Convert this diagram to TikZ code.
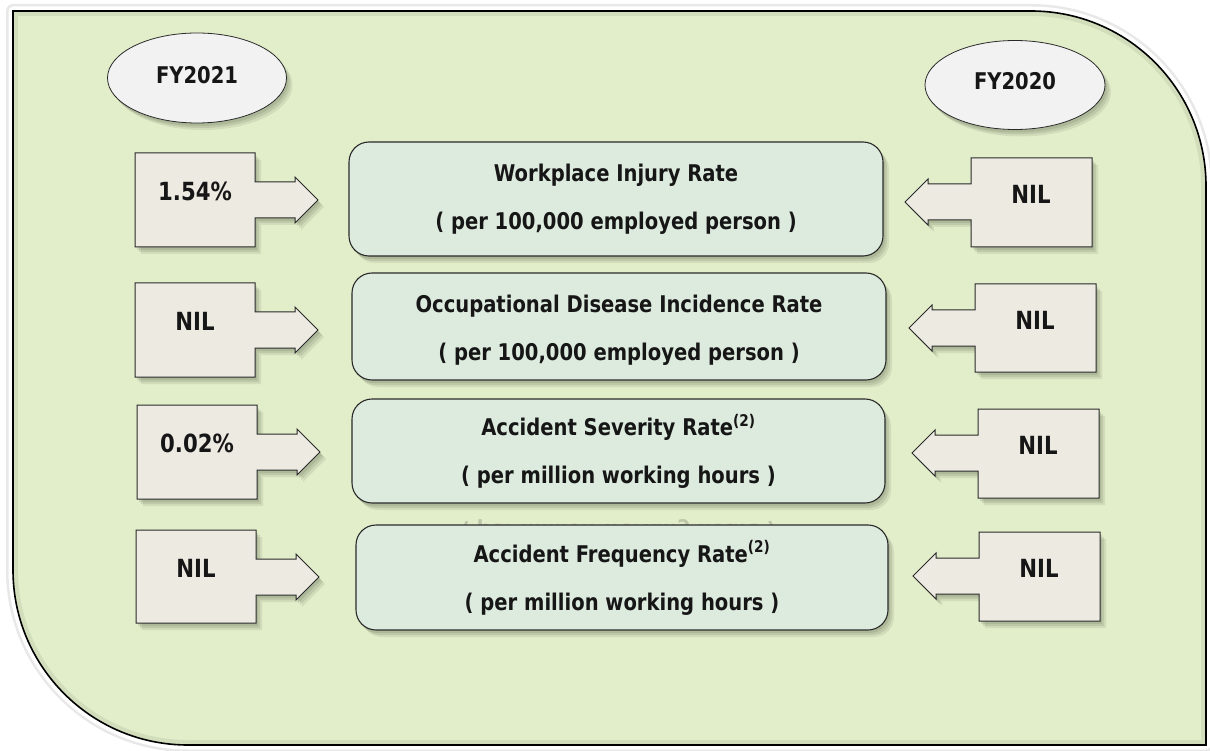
\documentclass[tikz,border=0pt]{standalone}
\usepackage{fontspec}
\setmainfont{DejaVu Sans}[FakeStretch=0.85]
\usetikzlibrary{shapes.geometric}
\definecolor{framefill}{HTML}{E2EDCA}
\definecolor{boxfill}{HTML}{DDEBDF}
\definecolor{callfill}{HTML}{EDEAE2}
\definecolor{ellfill}{HTML}{F2F2F2}
\definecolor{shadowc}{HTML}{4E5840}
\definecolor{txt}{HTML}{161616}
\definecolor{edge}{HTML}{2A2A2A}
\tikzset{
  softshadow/.style={
    preaction={fill=shadowc,opacity=.15,transform canvas={xshift=2pt,yshift=-3pt}},
    preaction={fill=shadowc,opacity=.14,transform canvas={xshift=4pt,yshift=-5pt}},
    preaction={fill=shadowc,opacity=.11,transform canvas={xshift=6pt,yshift=-7pt}}},
  callstyle/.style={softshadow,fill=callfill,draw=edge,line width=1pt,line join=miter},
  calltext/.style={text=txt,font=\fontsize{25}{29}\selectfont\bfseries},
  cbox/.style={softshadow,draw=edge,fill=boxfill,line width=1.1pt,rounded corners=20pt,
    align=center,text=txt,font=\fontsize{23}{48}\selectfont\bfseries,inner sep=0pt},
  ellbox/.style={softshadow,ellipse,draw=edge,fill=ellfill,line width=0.8pt,
    text=txt,font=\fontsize{23}{27}\selectfont\bfseries,inner sep=0pt}
}
\newcommand\leftcallout[6]{%
  \draw[callstyle] (#2,#3) -- ({#2+120},#3) -- ({#2+120},{#5-18}) -- ({#2+160},{#5-18})
    -- ({#2+160},{#5-23}) -- ({#2+183},#5) -- ({#2+160},{#5+23}) -- ({#2+160},{#5+18})
    -- ({#2+120},{#5+18}) -- ({#2+120},#4) -- (#2,#4) -- cycle;
  \node[calltext] (#1) at ({#2+60},{#5-9}) {#6};}
\newcommand\rightcallout[6]{%
  \draw[callstyle] (#2,#3) -- ({#2-121},#3) -- ({#2-121},{#5-18}) -- ({#2-164},{#5-18})
    -- ({#2-164},{#5-23}) -- ({#2-187},#5) -- ({#2-164},{#5+23}) -- ({#2-164},{#5+18})
    -- ({#2-121},{#5+18}) -- ({#2-121},#4) -- (#2,#4) -- cycle;
  \node[calltext] (#1) at ({#2-61},{#5-8}) {#6};}
\begin{document}
\begin{tikzpicture}[x=1pt,y=-1pt]
\useasboundingbox (0,0) rectangle (1210,751);
\fill[white] (0,0) rectangle (1210,751);
% outer frame
\draw[line width=14pt,gray!18,line join=round] (13,11) -- (1031,11) arc[start angle=-90,end angle=0,radius=175] -- (1206,745) -- (188,745) arc[start angle=90,end angle=180,radius=175] -- cycle;
\draw[line width=9pt,white,line join=round] (13,11) -- (1031,11) arc[start angle=-90,end angle=0,radius=175] -- (1206,745) -- (188,745) arc[start angle=90,end angle=180,radius=175] -- cycle;
\fill[framefill] (13,11) -- (1031,11) arc[start angle=-90,end angle=0,radius=175] -- (1206,745) -- (188,745) arc[start angle=90,end angle=180,radius=175] -- cycle;
\begin{scope}
\clip (13,11) -- (1031,11) arc[start angle=-90,end angle=0,radius=175] -- (1206,745) -- (188,745) arc[start angle=90,end angle=180,radius=175] -- cycle;
\draw[line width=10pt,shadowc,opacity=.10] (13,11) -- (1031,11) arc[start angle=-90,end angle=0,radius=175] -- (1206,745) -- (188,745) arc[start angle=90,end angle=180,radius=175] -- cycle;
\end{scope}
\draw[line width=1.6pt,black] (13,11) -- (1031,11) arc[start angle=-90,end angle=0,radius=175] -- (1206,745) -- (188,745) arc[start angle=90,end angle=180,radius=175] -- cycle;

% year ellipses
\node[ellbox,minimum width=179pt,minimum height=90pt] (fy21) at (197,78) {\raisebox{6pt}{FY2021}};
\node[ellbox,minimum width=180pt,minimum height=89pt] (fy20) at (1015,85) {\raisebox{8pt}{FY2020}};

% centre boxes
\node[cbox,minimum width=534pt,minimum height=114pt] (c1) at (616,199) {Workplace Injury Rate\\( per 100,000 employed person )};
\node[cbox,minimum width=534pt,minimum height=107pt] (c2) at (619,326.5) {\rule{0pt}{24.5pt}Occupational Disease Incidence Rate\\( per 100,000 employed person )};
\node[cbox,minimum width=533pt,minimum height=104pt] (c3) at (618.5,451) {Accident Severity Rate\textsuperscript{(2)}\\( per million working hours )};
\begin{scope}
\clip (352,503) rectangle (886,526);
\node[opacity=0.18,yscale=-1,text=txt,font=\fontsize{23}{48}\selectfont\bfseries] (refl) at (618.5,531) {( per million working hours )};
\end{scope}
\node[cbox,minimum width=532pt,minimum height=105pt] (c4) at (622,577.5) {\rule{0pt}{22pt}Accident Frequency Rate\textsuperscript{(2)}\\( per million working hours )};

% FY2021 callouts
\leftcallout{l1}{135}{153}{247}{200}{1.54\%}
\leftcallout{l2}{135}{283}{377}{330}{NIL}
\leftcallout{l3}{137}{405}{499}{452}{0.02\%}
\leftcallout{l4}{136}{530}{623}{577}{NIL}
% FY2020 callouts
\rightcallout{r1}{1092}{158}{247}{202}{NIL}
\rightcallout{r2}{1096}{284}{372}{328}{NIL}
\rightcallout{r3}{1099}{409}{498}{453}{NIL}
\rightcallout{r4}{1100}{532}{621}{576}{NIL}
\end{tikzpicture}
\end{document}
